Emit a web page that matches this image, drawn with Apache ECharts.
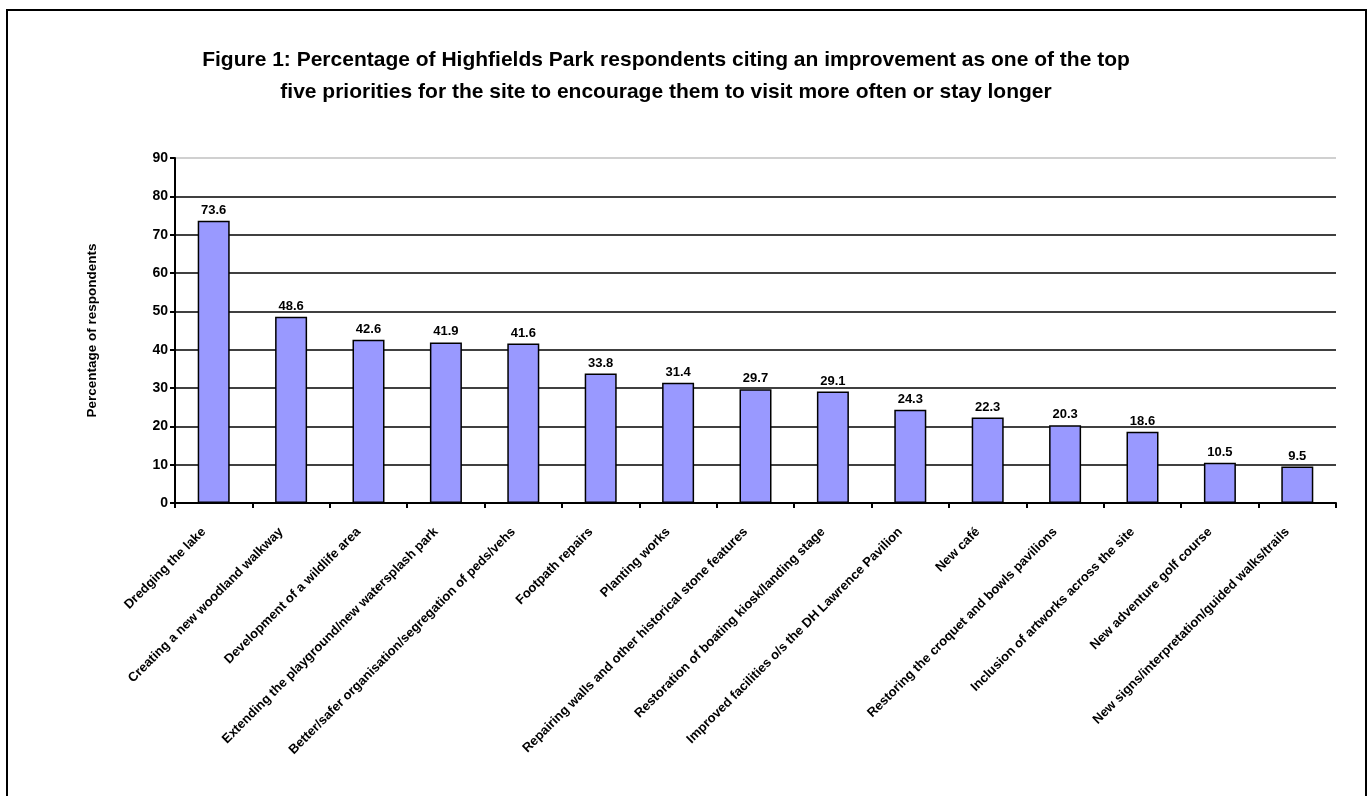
<!DOCTYPE html>
<html>
<head>
<meta charset="utf-8">
<title>Highfields Park priorities</title>
<script src="https://cdn.jsdelivr.net/npm/echarts@6/dist/echarts.min.js"></script>
<style>
  html, body { margin: 0; padding: 0; background: #ffffff; }
  #chart { width: 1372px; height: 796px; }
</style>
</head>
<body>
<div id="chart"></div>
<script>
// Improvements named by respondents
const categories = [
  'Dredging the lake',
  'Creating a new woodland walkway',
  'Development of a wildlife area',
  'Extending the playground/new watersplash park',
  'Better/safer organisation/segregation of peds/vehs',
  'Footpath repairs',
  'Planting works',
  'Repairing walls and other historical stone features',
  'Restoration of boating kiosk/landing stage',
  'Improved facilities o/s the DH Lawrence Pavilion',
  'New café',
  'Restoring the croquet and bowls pavilions',
  'Inclusion of artworks across the site',
  'New adventure golf course',
  'New signs/interpretation/guided walks/trails'
];

// Percentage of respondents citing each improvement in their top five
const percentages = [73.6, 48.6, 42.6, 41.9, 41.6, 33.8, 31.4, 29.7, 29.1, 24.3, 22.3, 20.3, 18.6, 10.5, 9.5];

const yTicks = { min: 0, max: 90, interval: 10 };

const titleText = 'Figure 1: Percentage of Highfields Park respondents citing an improvement as one of the top\n' +
                  'five priorities for the site to encourage them to visit more often or stay longer';
const yAxisTitle = 'Percentage of respondents';

const FONT = '"Liberation Sans", Arial, sans-serif';

const chart = echarts.init(document.getElementById('chart'), null, { renderer: 'canvas' });

// gridlines: black, except the top one which is light grey
const gridColors = [];
for (let v = yTicks.min; v <= yTicks.max; v += yTicks.interval) {
  gridColors.push(v === yTicks.max ? '#c0c0c0' : '#000000');
}

chart.setOption({
  animation: false,
  backgroundColor: '#ffffff',
  title: {
    text: titleText,
    left: 661,
    top: 39,
    textAlign: 'center',
    textStyle: {
      fontFamily: FONT,
      fontWeight: 'bold',
      fontSize: 21,
      lineHeight: 32,
      color: '#000000'
    }
  },
  graphic: [{
    type: 'rect',
    silent: true,
    shape: { x: 7, y: 10, width: 1359, height: 820 },
    style: { fill: 'none', stroke: '#000000', lineWidth: 2 }
  }],
  grid: { left: 175, right: 36, top: 158, bottom: 293 },
  xAxis: {
    type: 'category',
    data: categories,
    boundaryGap: true,
    axisLine: { show: true, lineStyle: { color: '#000000', width: 2 } },
    axisTick: { show: true, length: 5, alignWithLabel: false, lineStyle: { color: '#000000', width: 2 } },
    axisLabel: {
      interval: 0,
      rotate: 45,
      margin: 17,
      padding: [0, 14, 0, 0],
      fontFamily: FONT,
      fontWeight: 'bold',
      fontSize: 13,
      color: '#000000'
    },
    splitLine: { show: false }
  },
  yAxis: {
    type: 'value',
    min: yTicks.min,
    max: yTicks.max,
    interval: yTicks.interval,
    name: yAxisTitle,
    nameLocation: 'middle',
    nameGap: 76,
    nameRotate: 90,
    nameTextStyle: {
      fontFamily: FONT,
      fontWeight: 'bold',
      fontSize: 13.5,
      color: '#000000'
    },
    axisLine: { show: true, lineStyle: { color: '#000000', width: 2 } },
    axisTick: { show: true, length: 5, lineStyle: { color: '#000000', width: 2 } },
    axisLabel: {
      margin: 7,
      fontFamily: FONT,
      fontWeight: 'bold',
      fontSize: 14,
      color: '#000000'
    },
    splitLine: { show: true, lineStyle: { color: gridColors, width: 1.5 } }
  },
  series: [{
    type: 'bar',
    data: percentages,
    barWidth: 32,
    itemStyle: { color: '#9999ff', borderColor: '#000000', borderWidth: 1.5 },
    label: {
      show: true,
      position: 'top',
      distance: 4,
      formatter: p => p.value.toFixed(1),
      fontFamily: FONT,
      fontWeight: 'bold',
      fontSize: 13,
      color: '#000000'
    }
  }]
});
</script>
</body>
</html>
